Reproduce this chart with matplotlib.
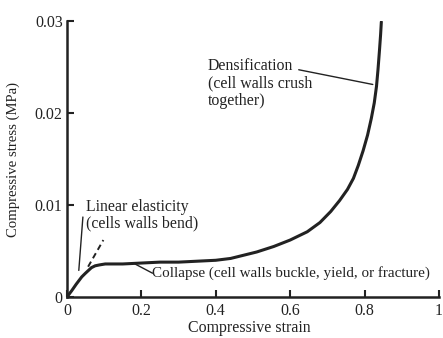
import matplotlib.pyplot as plt

# stress-strain curve (strain, stress in MPa)
strain = [0.0, 0.013, 0.025, 0.040, 0.050, 0.058, 0.066, 0.076, 0.088, 0.103, 0.15,
          0.20, 0.25, 0.30, 0.35, 0.40, 0.44, 0.47, 0.51, 0.556, 0.60, 0.646, 0.68,
          0.709, 0.733, 0.754, 0.770, 0.783, 0.796, 0.808, 0.818, 0.826, 0.832, 0.836,
          0.840, 0.843, 0.845]
stress = [0.0, 0.0007, 0.0014, 0.0022, 0.0026, 0.0029, 0.0032, 0.0034, 0.0035, 0.0036,
          0.0036, 0.0037, 0.0038, 0.0038, 0.0039, 0.0040, 0.0042, 0.0045, 0.0049, 0.0055,
          0.0062, 0.0071, 0.0081, 0.0093, 0.0105, 0.0117, 0.0129, 0.0143, 0.0159, 0.0176,
          0.0194, 0.0211, 0.0229, 0.0247, 0.0268, 0.0285, 0.0299]

# dashed extension of the linear-elastic part
elastic_x = [0.057, 0.098]
elastic_y = [0.0033, 0.0062]

x_ticks = [0, 0.2, 0.4, 0.6, 0.8, 1]
x_labels = ["0", "0.2", "0.4", "0.6", "0.8", "1"]
y_ticks = [0, 0.01, 0.02, 0.03]
y_labels = ["0", "0.01", "0.02", "0.03"]

INK = "#222222"
FONT = "Liberation Serif"
FS = 11.4

plt.rcParams["font.family"] = FONT
plt.rcParams["font.size"] = FS

fig = plt.figure(figsize=(4.43, 3.38), dpi=100)
ax = fig.add_axes([0.151, 0.121, 0.840, 0.817])

ax.plot(strain, stress, color=INK, lw=2.2, solid_capstyle="round", solid_joinstyle="round")
ax.plot(elastic_x, elastic_y, color=INK, lw=1.4, ls=(0, (3, 2)))

ax.set_xlim(0, 1)
ax.set_ylim(0, 0.03)
ax.set_xticks(x_ticks, x_labels)
ax.set_yticks(y_ticks, y_labels)
ax.tick_params(direction="in", length=5, width=1.5, colors=INK, labelsize=FS)
ax.tick_params(axis="x", pad=4)
ax.tick_params(axis="y", pad=3)

for side in ["top", "right"]:
    ax.spines[side].set_visible(False)
for side in ["left", "bottom"]:
    ax.spines[side].set_linewidth(1.8)
    ax.spines[side].set_color(INK)

ax.set_xlabel("Compressive strain", color=INK, fontsize=FS)
ax.set_ylabel("Compressive stress (MPa)", color=INK, fontsize=10.6)
ax.xaxis.set_label_coords(0.49, -0.082)
ax.yaxis.set_label_coords(-0.126, 0.5)

line = dict(arrowstyle="-", color=INK, lw=1.0, shrinkA=0, shrinkB=0)
ax.annotate("", xy=(0.032, 0.0029), xytext=(0.043, 0.0087), arrowprops=line)
ax.text(0.052, 0.0089, "Linear elasticity\n(cells walls bend)", color=INK,
        ha="left", va="center", linespacing=1.1)

ax.annotate("", xy=(0.230, 0.0026), xytext=(0.183, 0.0036), arrowprops=line)
ax.text(0.230, 0.0026, "Collapse (cell walls buckle, yield, or fracture)", color=INK,
        ha="left", va="center", fontsize=10.9, clip_on=False)

ax.annotate("", xy=(0.822, 0.0231), xytext=(0.623, 0.0247), arrowprops=line)
ax.text(0.378, 0.0232, "Densification\n(cell walls crush\ntogether)", color=INK,
        ha="left", va="center", linespacing=1.1)

fig.savefig("out.png", dpi=100)
